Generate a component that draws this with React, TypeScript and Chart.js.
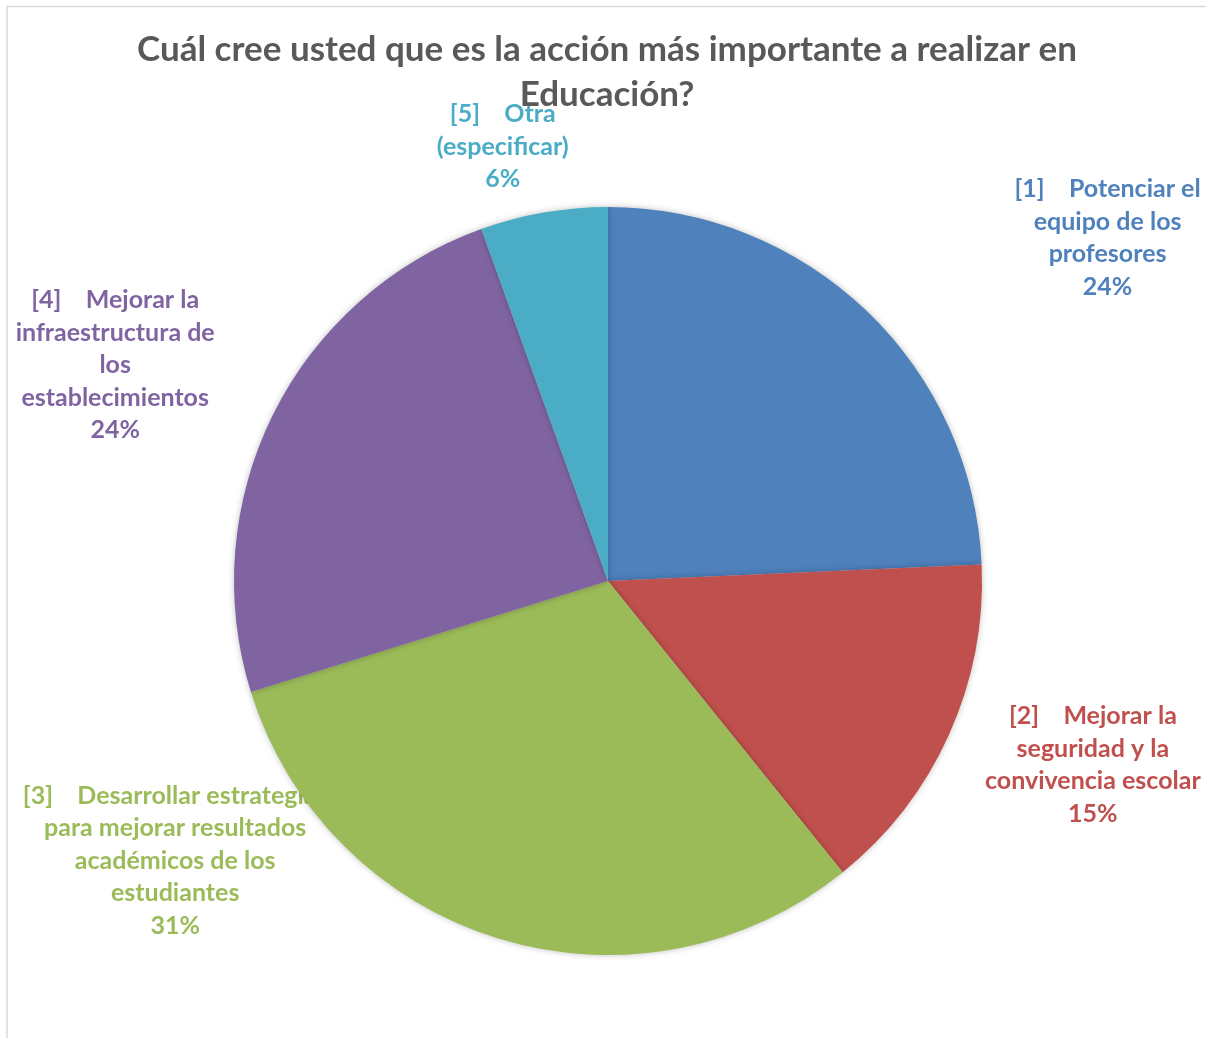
import React, { useEffect, useRef } from "react";
import { Chart, registerables } from "chart.js";

Chart.register(...registerables);

const titleLines = [
  "Cuál cree usted que es la acción más importante a realizar en",
  "Educación?",
];
const categories = [
  "[1] Potenciar el equipo de los profesores",
  "[2] Mejorar la seguridad y la convivencia escolar",
  "[3] Desarrollar estrategias para mejorar resultados académicos de los estudiantes",
  "[4] Mejorar la infraestructura de los establecimientos",
  "[5] Otra (especificar)",
];
const labelLines = [
  ["[1]    Potenciar el", "equipo de los", "profesores"],
  ["[2]    Mejorar la", "seguridad y la", "convivencia escolar"],
  ["[3]    Desarrollar estrategias", "para mejorar resultados", "académicos de los", "estudiantes"],
  ["[4]    Mejorar la", "infraestructura de", "los", "establecimientos"],
  ["[5]    Otra", "(especificar)"],
];
const values = [24.3, 14.9, 31.0, 24.3, 5.5];
const pctLabels = ["24%", "15%", "31%", "24%", "6%"];
const colors = ["#4F81BD", "#C0504D", "#9BBB59", "#8064A2", "#4BACC6"];

// label block offsets from each slice's outer mid-point (styling only)
const labelOffsets = [
  [241, -73],
  [144, 30],
  [-324, -78],
  [-158, -49],
  [-41, -66],
];

const FONT = "Lato, 'Open Sans', sans-serif";

export default function App() {
  const ref = useRef<HTMLCanvasElement | null>(null);

  useEffect(() => {
    const canvas = ref.current;
    if (!canvas) return;

    const framePlugin = {
      id: "frame",
      beforeDraw(chart: any) {
        const ctx = chart.ctx;
        ctx.save();
        ctx.fillStyle = "#ffffff";
        ctx.fillRect(0, 0, chart.width, chart.height);
        ctx.strokeStyle = "#d9d9d9";
        ctx.lineWidth = 1.5;
        ctx.beginPath();
        ctx.moveTo(7, chart.height);
        ctx.lineTo(7, 6.5);
        ctx.lineTo(chart.width, 6.5);
        ctx.stroke();
        ctx.restore();
      },
    };

    const labelPlugin = {
      id: "sliceLabels",
      beforeDatasetsDraw(chart: any) {
        const ctx = chart.ctx;
        const meta = chart.getDatasetMeta(0);
        ctx.save();
        ctx.font = `bold 25px ${FONT}`;
        ctx.textAlign = "center";
        ctx.textBaseline = "middle";
        const lh = 32.5;
        meta.data.forEach((arc: any, i: number) => {
          const p = arc.getProps(["x", "y", "startAngle", "endAngle", "outerRadius"], true);
          const mid = (p.startAngle + p.endAngle) / 2;
          const ax = p.x + Math.cos(mid) * p.outerRadius + labelOffsets[i][0];
          const ay = p.y + Math.sin(mid) * p.outerRadius + labelOffsets[i][1];
          const lines = [...labelLines[i], pctLabels[i]];
          const top = ay - ((lines.length - 1) * lh) / 2;
          ctx.fillStyle = colors[i];
          lines.forEach((t, k) => ctx.fillText(t, ax, top + k * lh));
        });
        ctx.restore();
      },
    };

    const shadowPlugin = {
      id: "pieShadow",
      beforeDatasetDraw(chart: any) {
        const ctx = chart.ctx;
        ctx.save();
        ctx.shadowColor = "rgba(0,0,0,0.25)";
        ctx.shadowBlur = 6;
        ctx.shadowOffsetX = 0;
        ctx.shadowOffsetY = 0;
      },
      afterDatasetDraw(chart: any) {
        chart.ctx.restore();
      },
    };

    const titlePlugin = {
      id: "customTitle",
      afterDraw(chart: any) {
        const ctx = chart.ctx;
        ctx.save();
        ctx.font = `bold 35px ${FONT}`;
        ctx.fillStyle = "#595959";
        ctx.textAlign = "center";
        ctx.textBaseline = "middle";
        ctx.fillText(titleLines[0], 607, 50);
        ctx.fillText(titleLines[1], 607, 95);
        ctx.restore();
      },
    };

    const chart = new Chart(canvas, {
      type: "pie",
      data: {
        labels: categories,
        datasets: [
          {
            data: values,
            backgroundColor: colors,
            borderWidth: 0,
          },
        ],
      },
      options: {
        responsive: false,
        animation: false,
        devicePixelRatio: 1,
        layout: { padding: { top: 207, bottom: 83, left: 234, right: 224 } },
        plugins: {
          legend: { display: false },
          title: { display: false },
          tooltip: { enabled: false },
        },
      },
      plugins: [framePlugin, labelPlugin, shadowPlugin, titlePlugin],
    });

    return () => chart.destroy();
  }, []);

  return (
    <div style={{ position: "fixed", left: 0, top: 0, width: 1206, height: 1038, background: "#fff" }}>
      <canvas ref={ref} width={1206} height={1038} style={{ width: 1206, height: 1038, display: "block" }} />
    </div>
  );
}
